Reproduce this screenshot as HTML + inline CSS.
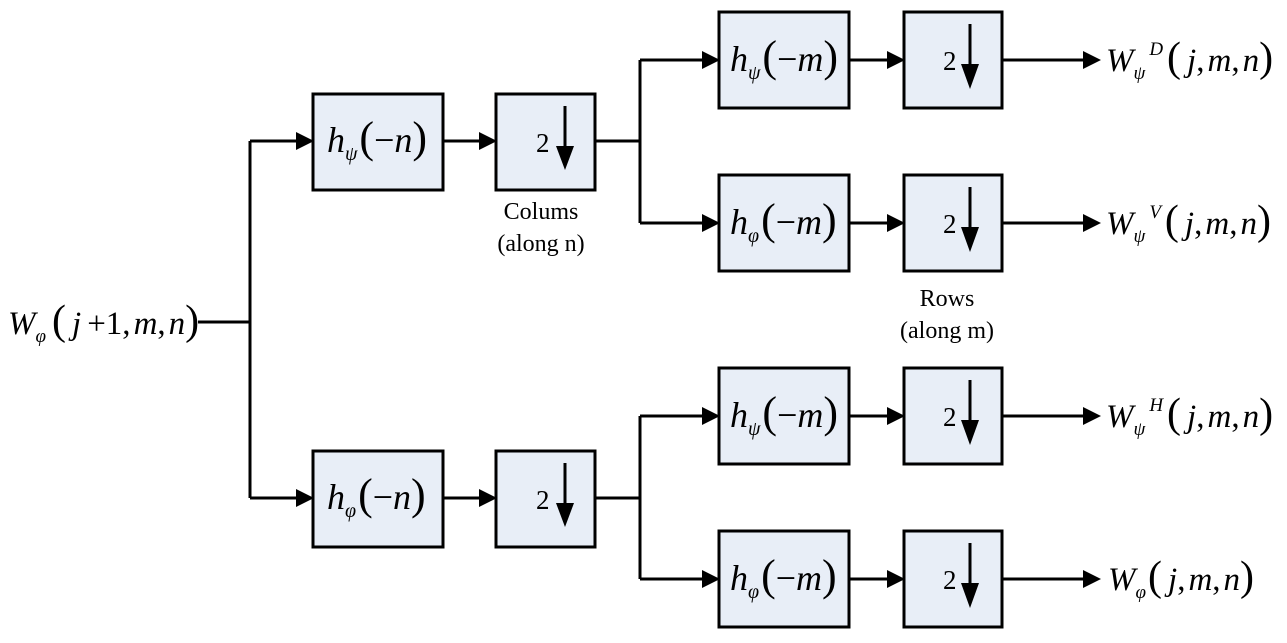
<!DOCTYPE html>
<html><head><meta charset="utf-8"><style>
html,body{margin:0;padding:0;background:#fff;}
svg{display:block;}
text{font-family:"Liberation Serif",serif;fill:#000;}
.it{font-style:italic;}
.two{font-size:27px;font-family:"Liberation Serif",serif;}
</style></head><body>
<svg width="1287" height="643" viewBox="0 0 1287 643" xmlns="http://www.w3.org/2000/svg">
<g fill="#e8eef7" stroke="#000" stroke-width="3">
<rect x="313" y="94" width="130" height="96"/>
<rect x="496" y="94" width="99" height="96"/>
<rect x="313" y="451" width="130" height="96"/>
<rect x="496" y="451" width="99" height="96"/>
<rect x="719" y="12" width="130" height="96"/>
<rect x="904" y="12" width="98" height="96"/>
<rect x="719" y="175" width="130" height="96"/>
<rect x="904" y="175" width="98" height="96"/>
<rect x="719" y="368" width="130" height="96"/>
<rect x="904" y="368" width="98" height="96"/>
<rect x="719" y="531" width="130" height="96"/>
<rect x="904" y="531" width="98" height="96"/>
</g>
<g stroke="#000" stroke-width="3" fill="none">
<path d="M198 322H250M250 141V498M250 141H296M250 498H296"/>
<path d="M443 141H479M443 498H479"/>
<path d="M595 141H640M640 60V223M640 60H702M640 223H702"/>
<path d="M595 498H640M640 416V579M640 416H702M640 579H702"/>
<path d="M849 60H887M849 223H887M849 416H887M849 579H887"/>
<path d="M1002 60H1083M1002 223H1083M1002 416H1083M1002 579H1083"/>
<path d="M565 106V150M565 463V507M970 24V68M970 187V231M970 380V424M970 543V587"/>
</g>
<g fill="#000">
<path d="M296 132L314 141L296 150Z"/><path d="M296 489L314 498L296 507Z"/>
<path d="M479 132L497 141L479 150Z"/><path d="M479 489L497 498L479 507Z"/>
<path d="M702 51L720 60L702 69Z"/><path d="M702 214L720 223L702 232Z"/>
<path d="M702 407L720 416L702 425Z"/><path d="M702 570L720 579L702 588Z"/>
<path d="M887 51L905 60L887 69Z"/><path d="M887 214L905 223L887 232Z"/>
<path d="M887 407L905 416L887 425Z"/><path d="M887 570L905 579L887 588Z"/>
<path d="M1083 51L1101 60L1083 69Z"/><path d="M1083 214L1101 223L1083 232Z"/>
<path d="M1083 407L1101 416L1083 425Z"/><path d="M1083 570L1101 579L1083 588Z"/>
<path d="M556 146L574 146L565 170Z"/><path d="M556 503L574 503L565 527Z"/>
<path d="M961 64L979 64L970 89Z"/><path d="M961 227L979 227L970 252Z"/>
<path d="M961 420L979 420L970 445Z"/><path d="M961 583L979 583L970 608Z"/>
</g>
<g>
<text class="two" x="536" y="152">2</text><text class="two" x="536" y="509">2</text>
<text class="two" x="943" y="70">2</text><text class="two" x="943" y="233">2</text>
<text class="two" x="943" y="426">2</text><text class="two" x="943" y="589">2</text>
</g>
<g font-size="24" text-anchor="middle">
<text x="541" y="219">Colums</text><text x="541" y="251">(along n)</text>
<text x="947" y="306">Rows</text><text x="947" y="338">(along m)</text>
</g>
<g font-size="36">
<text x="327" y="152"><tspan class="it">h</tspan><tspan class="it" font-size="20" dy="8">ψ</tspan><tspan dy="-8" font-size="44" dx="2">(</tspan>−<tspan class="it">n</tspan><tspan font-size="44">)</tspan></text>
<text x="327" y="509"><tspan class="it">h</tspan><tspan class="it" font-size="20" dy="8">φ</tspan><tspan dy="-8" font-size="44" dx="2">(</tspan>−<tspan class="it">n</tspan><tspan font-size="44">)</tspan></text>
<text x="730" y="71"><tspan class="it">h</tspan><tspan class="it" font-size="20" dy="8">ψ</tspan><tspan dy="-8" font-size="44" dx="2">(</tspan>−<tspan class="it">m</tspan><tspan font-size="44">)</tspan></text>
<text x="730" y="234"><tspan class="it">h</tspan><tspan class="it" font-size="20" dy="8">φ</tspan><tspan dy="-8" font-size="44" dx="2">(</tspan>−<tspan class="it">m</tspan><tspan font-size="44">)</tspan></text>
<text x="730" y="427"><tspan class="it">h</tspan><tspan class="it" font-size="20" dy="8">ψ</tspan><tspan dy="-8" font-size="44" dx="2">(</tspan>−<tspan class="it">m</tspan><tspan font-size="44">)</tspan></text>
<text x="730" y="590"><tspan class="it">h</tspan><tspan class="it" font-size="20" dy="8">φ</tspan><tspan dy="-8" font-size="44" dx="2">(</tspan>−<tspan class="it">m</tspan><tspan font-size="44">)</tspan></text>
</g>
<g font-size="33">
<text x="8" y="334"><tspan class="it">W</tspan><tspan class="it" font-size="19" dy="8">φ</tspan><tspan dy="-8" font-size="42" dx="6">(</tspan><tspan class="it" dx="6">j</tspan><tspan dx="6">+1,</tspan><tspan class="it" dx="3">m</tspan>,<tspan class="it" dx="3">n</tspan><tspan font-size="42">)</tspan></text>
<text x="1106" y="71"><tspan class="it">W</tspan><tspan class="it" font-size="19" dy="8">ψ</tspan><tspan class="it" font-size="19" dy="-24" dx="4">D</tspan><tspan dy="16" font-size="42" dx="4">(</tspan><tspan class="it" dx="6">j</tspan>,<tspan class="it" dx="3">m</tspan>,<tspan class="it" dx="3">n</tspan><tspan font-size="42">)</tspan></text>
<text x="1106" y="234"><tspan class="it">W</tspan><tspan class="it" font-size="19" dy="8">ψ</tspan><tspan class="it" font-size="19" dy="-24" dx="4">V</tspan><tspan dy="16" font-size="42" dx="4">(</tspan><tspan class="it" dx="6">j</tspan>,<tspan class="it" dx="3">m</tspan>,<tspan class="it" dx="3">n</tspan><tspan font-size="42">)</tspan></text>
<text x="1106" y="427"><tspan class="it">W</tspan><tspan class="it" font-size="19" dy="8">ψ</tspan><tspan class="it" font-size="19" dy="-24" dx="4">H</tspan><tspan dy="16" font-size="42" dx="4">(</tspan><tspan class="it" dx="6">j</tspan>,<tspan class="it" dx="3">m</tspan>,<tspan class="it" dx="3">n</tspan><tspan font-size="42">)</tspan></text>
<text x="1108" y="590"><tspan class="it">W</tspan><tspan class="it" font-size="19" dy="8">φ</tspan><tspan dy="-8" font-size="42" dx="2">(</tspan><tspan class="it" dx="6">j</tspan>,<tspan class="it" dx="3">m</tspan>,<tspan class="it" dx="3">n</tspan><tspan font-size="42">)</tspan></text>
</g>
</svg>
</body></html>
